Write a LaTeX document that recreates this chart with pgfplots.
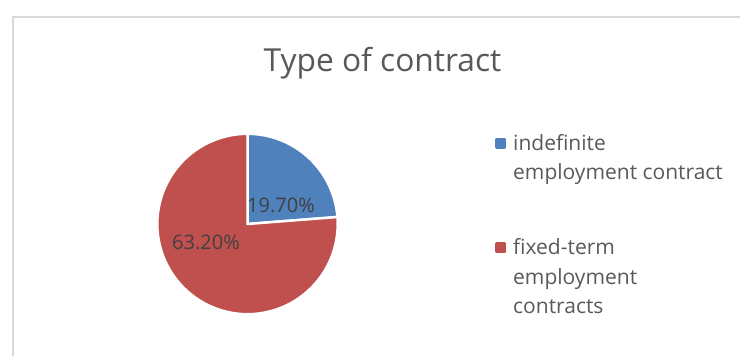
\documentclass[border=0pt]{standalone}
\usepackage{pgfplots}
\usepackage{pgfplotstable}
\pgfplotsset{compat=1.18}
\usepackage{fontspec}
\setmainfont{Open Sans}
\definecolor{pieblue}{RGB}{79,129,189}
\definecolor{piered}{RGB}{192,80,77}
\definecolor{titlegray}{RGB}{89,89,89}
\definecolor{labelgray}{RGB}{64,64,64}
\definecolor{framegray}{RGB}{217,217,217}
\pgfplotstableread{
label value
indefinite 19.7
fixedterm 63.2
}\piedata
\begin{document}
\begin{tikzpicture}
\useasboundingbox (0,0) rectangle (740bp,356bp);
\pgfplotstablegetelem{0}{value}\of\piedata \pgfmathsetmacro\va{\pgfplotsretval}
\pgfplotstablegetelem{1}{value}\of\piedata \pgfmathsetmacro\vb{\pgfplotsretval}
\pgfmathsetmacro\split{90-360*\va/(\va+\vb)}
\def\cx{247.5}\def\cy{132}\def\r{90.2}
\draw[framegray, line width=2bp] (12.8bp,-3bp) -- (12.8bp,338.5bp) -- (745bp,338.5bp);
\node[anchor=base, text=titlegray, font=\fontsize{31.7bp}{38bp}\selectfont, inner sep=0] at (382.5bp,284bp) {Type of contract};
\begin{axis}[
  at={(0,0)}, anchor=south west,
  scale only axis, width=740bp, height=356bp,
  xmin=0, xmax=740, ymin=0, ymax=356,
  hide axis, clip=false,
  legend cell align=left,
  legend style={at={(axis cs:495,227.5)}, anchor=north west, draw=none, fill=none,
    inner sep=0pt, nodes={inner sep=0pt, text height=21.5bp, text depth=8bp}, column sep=7bp, row sep=0pt,
    font=\fontsize{21bp}{29.5bp}\selectfont, text=titlegray},
]
\addplot[fill=pieblue, draw=white, line width=2.5bp, line join=round, domain=\split:90, samples=80, variable=\t,
  legend image code/.code={\fill[pieblue] (0bp,-4.25bp) rectangle (8.5bp,4.25bp);}]
  ({\cx+\r*cos(\t)},{\cy+\r*sin(\t)}) -- (axis cs:\cx,\cy) -- cycle;
\addlegendentry{indefinite}
\addlegendimage{empty legend}
\addlegendentry{employment contract}
\addlegendimage{empty legend}
\addlegendentry[text height=37.5bp, text depth=8bp]{}
\addplot[fill=piered, draw=white, line width=2.5bp, line join=round, domain=-270:\split, samples=200, variable=\t,
  legend image code/.code={\fill[piered] (0bp,-4.25bp) rectangle (8.5bp,4.25bp);}]
  ({\cx+\r*cos(\t)},{\cy+\r*sin(\t)}) -- (axis cs:\cx,\cy) -- cycle;
\addlegendentry{fixed-term}
\addlegendimage{empty legend}
\addlegendentry{employment}
\addlegendimage{empty legend}
\addlegendentry{contracts}
\node[anchor=base, text=labelgray, font=\fontsize{20bp}{24bp}\selectfont, inner sep=0] at (axis cs:281,143) {19.70\%};
\node[anchor=base, text=labelgray, font=\fontsize{20bp}{24bp}\selectfont, inner sep=0] at (axis cs:206,106) {63.20\%};
\end{axis}
\end{tikzpicture}
\end{document}
